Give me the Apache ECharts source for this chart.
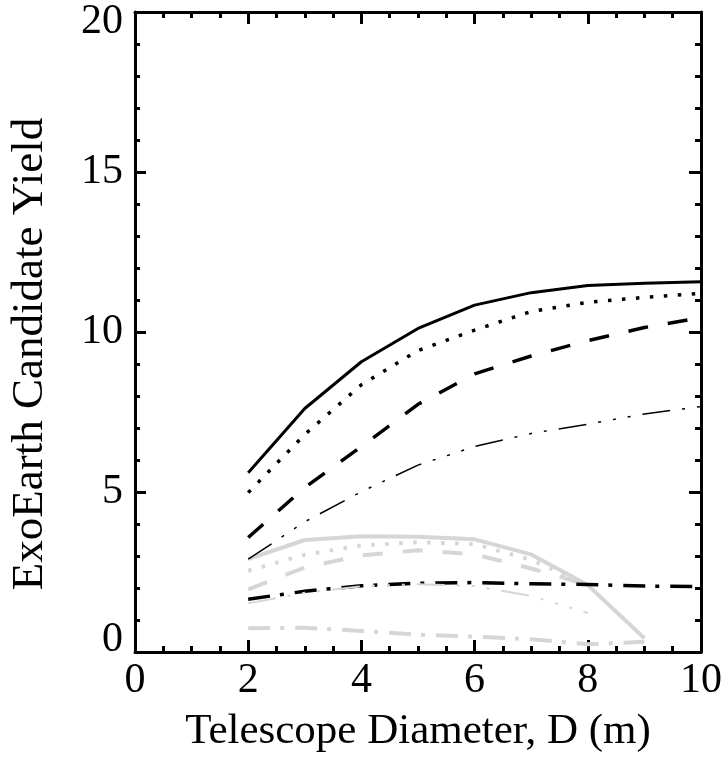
<!DOCTYPE html>
<html><head><meta charset="utf-8">
<script src="https://cdn.jsdelivr.net/npm/echarts@6/dist/echarts.min.js"></script>
<style>html,body{margin:0;padding:0;background:#fff}#c{width:725px;height:763px}</style>
</head><body><div id="c"></div>
<script>
// Telescope diameters (m)
const diameters = [2, 3, 4, 5, 6, 7, 8, 9, 10];
// Black curves
const blackSolid      = [5.60, 7.61, 9.07, 10.11, 10.84, 11.23, 11.45, 11.52, 11.57];
const blackDotted     = [4.98, 6.80, 8.35, 9.42, 10.06, 10.64, 10.93, 11.08, 11.21];
const blackDashed     = [3.58, 5.14, 6.42, 7.74, 8.69, 9.25, 9.73, 10.14, 10.45];
const blackDashDotDot = [2.90, 4.07, 5.01, 5.84, 6.42, 6.83, 7.12, 7.44, 7.67];
const blackDashDot    = [1.65, 1.90, 2.07, 2.15, 2.17, 2.13, 2.11, 2.06, 2.04];
// Grey curves
const greySolid       = [2.90, 3.50, 3.62, 3.60, 3.52, 3.05, 2.09, 0.43];
const greyDotted      = [2.54, 3.04, 3.33, 3.43, 3.37, 2.88, 2.10];
const greyDashed      = [1.96, 2.64, 3.02, 3.18, 3.05, 2.61, 2.10];
const greyDashDotDot  = [1.52, 1.85, 2.05, 2.12, 2.06, 1.75, 1.22];
const greyDashDot     = [0.74, 0.76, 0.66, 0.54, 0.48, 0.40, 0.24, 0.32];
// Axis ticks
const xTicks = [0, 2, 4, 6, 8, 10];
const yTicks = [0, 5, 10, 15, 20];

const FONT = 'Liberation Serif';
const GREY = '#d6d6d6';
const pts = arr => arr.map((v, i) => [diameters[i], v]);

function mk(name, arr, color, width, dash, z) {
  return {
    name, type: 'line', data: pts(arr), symbol: 'none', showSymbol: false,
    animation: false, z: z, silent: true,
    lineStyle: { color, width, type: dash || 'solid', cap: 'butt', join: 'round' }
  };
}

const dotted = [3.5, 10.5];
const dashed = [20, 20];
const dashDotDot = [28, 12, 3, 12, 3, 12, 3, 12];
const dashDot = [22, 10, 4, 11];

const axisCommon = {
  type: 'value',
  axisLine: { show: true, onZero: false, lineStyle: { color: '#000', width: 3 } },
  axisTick: { show: true, inside: true, length: 12, lineStyle: { color: '#000', width: 3 } },
  minorTick: { show: true, length: 6, lineStyle: { color: '#000', width: 3 } },
  splitLine: { show: false },
  minorSplitLine: { show: false }
};

const chart = echarts.init(document.getElementById('c'), null, { renderer: 'canvas' });
chart.setOption({
  backgroundColor: '#fff',
  animation: false,
  grid: { left: 133, right: 24, top: 12, bottom: 111 },
  xAxis: [
    Object.assign({}, axisCommon, {
      position: 'bottom', min: xTicks[0], max: xTicks[xTicks.length - 1], interval: 2,
      minorTick: Object.assign({}, axisCommon.minorTick, { splitNumber: 4 }),
      axisLabel: { color: '#000', fontFamily: FONT, fontSize: 42, margin: 8 },
      name: 'Telescope Diameter, D (m)', nameLocation: 'middle', nameGap: 58,
      nameTextStyle: { color: '#000', fontFamily: FONT, fontSize: 43 }
    }),
    Object.assign({}, axisCommon, {
      position: 'top', min: xTicks[0], max: xTicks[xTicks.length - 1], interval: 2,
      minorTick: Object.assign({}, axisCommon.minorTick, { splitNumber: 4 }),
      axisLabel: { show: false }
    })
  ],
  yAxis: [
    Object.assign({}, axisCommon, {
      position: 'left', min: yTicks[0], max: yTicks[yTicks.length - 1], interval: 5,
      axisTick: Object.assign({}, axisCommon.axisTick, { length: 11 }),
      minorTick: Object.assign({}, axisCommon.minorTick, { splitNumber: 5, length: 5 }),
      axisLabel: {
        color: '#000', fontFamily: FONT, fontSize: 42, margin: 12,
        formatter: v => v === 20 ? '{t|20}' : (v === 0 ? '{b|0}' : String(v)),
        rich: {
          t: { fontFamily: FONT, fontSize: 42, color: '#000', padding: [20, 0, 0, 0] },
          b: { fontFamily: FONT, fontSize: 42, color: '#000', padding: [0, 0, 24, 0] }
        }
      },
      name: 'ExoEarth Candidate Yield', nameLocation: 'middle', nameGap: 82, nameRotate: 90,
      nameTextStyle: { color: '#000', fontFamily: FONT, fontSize: 45, padding: [0, 44, 0, 0] }
    }),
    Object.assign({}, axisCommon, {
      position: 'right', min: yTicks[0], max: yTicks[yTicks.length - 1], interval: 5,
      minorTick: Object.assign({}, axisCommon.minorTick, { splitNumber: 5 }),
      axisLabel: { show: false }
    })
  ],
  series: [
    mk('black solid', blackSolid, '#000', 3, null, 3),
    mk('black dotted', blackDotted, '#000', 3.5, dotted, 3),
    mk('black dashed', blackDashed, '#000', 3.5, dashed, 3),
    mk('black dash-dot-dot', blackDashDotDot, '#000', 1.5, dashDotDot, 3),
    mk('black dash-dot', blackDashDot, '#000', 3.5, dashDot, 3),
    mk('grey solid', greySolid, GREY, 4, null, 2),
    mk('grey dotted', greyDotted, GREY, 4, dotted, 2),
    mk('grey dashed', greyDashed, GREY, 4, dashed, 2),
    mk('grey dash-dot-dot', greyDashDotDot, GREY, 2, dashDotDot, 4),
    mk('grey dash-dot', greyDashDot, GREY, 4, dashDot, 2)
  ]
});
</script>
</body></html>
